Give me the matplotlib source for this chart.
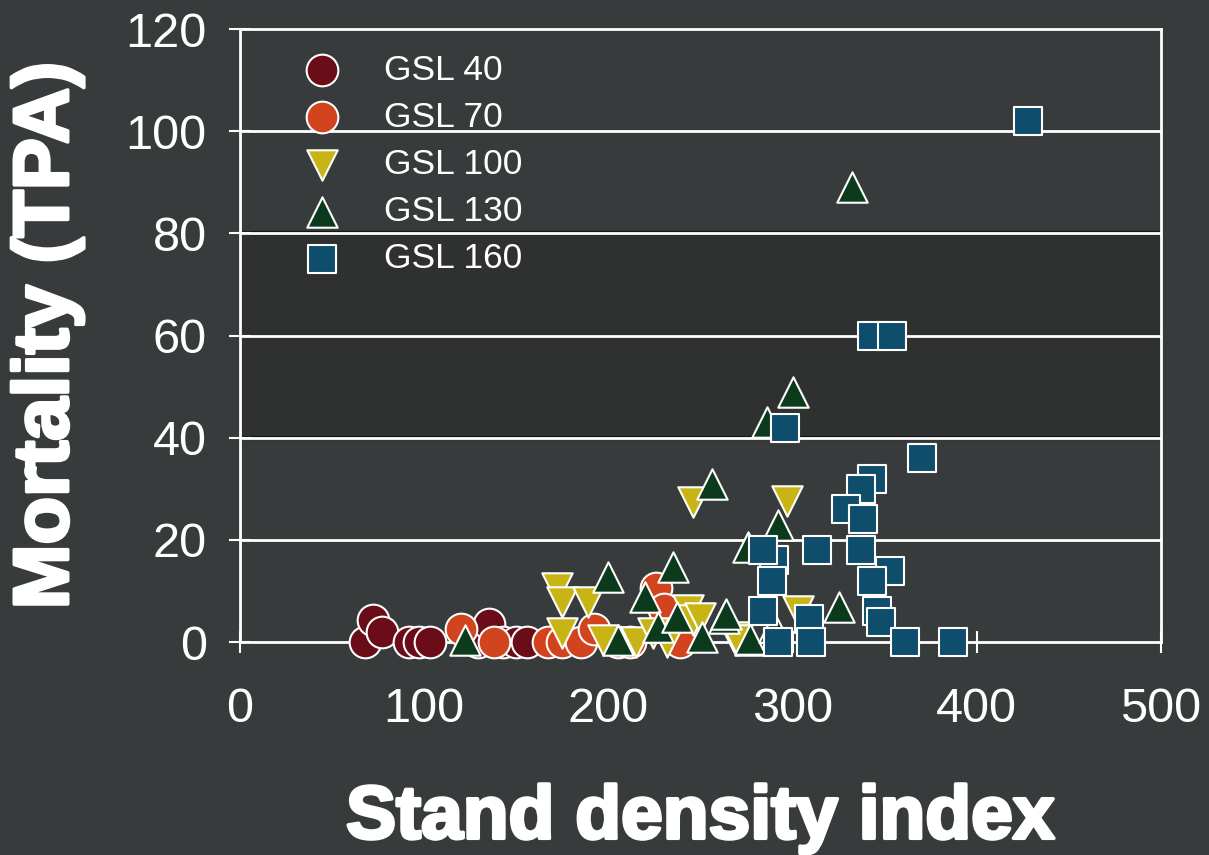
import matplotlib.pyplot as plt
import matplotlib.patheffects as pe

# GSL 40
sdi_40 = [68, 72, 77, 92, 97, 103, 129, 135, 143, 150, 156]
mort_40 = [0, 4.3, 2, 0, 0, 0, 0, 3.5, 0, 0, 0]
# GSL 70
sdi_70 = [120, 138, 167, 175, 185, 192, 205, 212, 226, 230, 239]
mort_70 = [2.5, 0, 0, 0, 0, 2.5, 0, 0, 10.5, 6.5, 0]
# GSL 100
sdi_100 = [172, 175, 189, 175, 197, 215, 224, 232, 243, 246, 250, 246, 268, 270, 297, 303]
mort_100 = [10.5, 7.8, 7.8, 1.8, 0.4, 0, 1.8, 0, 6.2, 4.3, 4.7, 27.4, 1, 0.4, 27.7, 6]
# GSL 130
sdi_130 = [122, 200, 205, 220, 227, 235, 237, 251, 256, 263, 264, 276, 277, 277, 286, 290, 292, 300, 325, 332]
mort_130 = [0.5, 12.7, 0.4, 8.8, 2.9, 14.7, 4.9, 1, 31, 4.7, 5.5, 18.6, 0.4, 0.6, 43, 3, 23, 49, 6.8, 89]
# GSL 160
sdi_160 = [428, 343, 354, 296, 370, 343, 337, 329, 338, 290, 284, 313, 337, 289, 353, 343,
           284, 309, 346, 348, 292, 310, 361, 387]
mort_160 = [102, 60, 60, 42, 36, 32, 30, 26, 24, 16, 18, 18, 18, 12, 14, 12,
            6, 4.5, 6, 4, 0, 0, 0, 0]

bg = '#383b3b'
plt.rcParams['font.family'] = ['Liberation Sans', 'DejaVu Sans']

fig = plt.figure(figsize=(12.09, 8.55), dpi=100, facecolor=bg)
ax = fig.add_axes([0.1985, 0.249, 0.7618, 0.717])
ax.set_facecolor(bg)

# darker band between 40 and 80
ax.axhspan(40, 80, color='#2f3131', zorder=0.5, lw=0)
ax.axhline(80, color='#151616', lw=3, zorder=0.6)
ax.axhline(40, color='#151616', lw=3, zorder=0.6)

for yv in [20, 40, 60, 80, 100]:
    ax.axhline(yv, color='white', lw=2, zorder=1)

ec = 'white'
ax.scatter(sdi_40, mort_40, s=520, marker='o', color='#6a0d18', edgecolors=ec, linewidths=1.5, zorder=3, clip_on=False, label='GSL 40')
ax.scatter(sdi_70, mort_70, s=520, marker='o', color='#d2441e', edgecolors=ec, linewidths=1.5, zorder=3, clip_on=False, label='GSL 70')
ax.scatter(sdi_100, mort_100, s=480, marker='v', color='#c8b414', edgecolors=ec, linewidths=1.5, zorder=3, clip_on=False, label='GSL 100')
ax.scatter(sdi_130, mort_130, s=480, marker='^', color='#0b3b1c', edgecolors=ec, linewidths=1.5, zorder=3, clip_on=False, label='GSL 130')
ax.scatter(sdi_160, mort_160, s=390, marker='s', color='#0e4d6b', edgecolors=ec, linewidths=1.5, zorder=3, clip_on=False, label='GSL 160')

ax.set_xlim(0, 500)
ax.set_ylim(0, 120)
ax.set_xticks([0, 100, 200, 300, 400, 500])
ax.set_yticks([0, 20, 40, 60, 80, 100, 120])
for sp in ax.spines.values():
    sp.set_color('white')
    sp.set_linewidth(2)
ax.tick_params(direction='inout', length=16, width=1.5, color='white',
               labelcolor='white', labelsize=35)
ax.tick_params(axis='x', pad=24)
ax.tick_params(axis='y', pad=16)

stroke = [pe.withStroke(linewidth=2.5, foreground='white')]
ax.set_xlabel('Stand density index', fontsize=54, fontweight='bold', color='white',
              labelpad=38, path_effects=stroke)
ax.set_ylabel('Mortality (TPA)', fontsize=56, fontweight='bold', color='white',
              labelpad=30, path_effects=stroke)

leg = ax.legend(loc='upper left', bbox_to_anchor=(0.06, 0.96), frameon=False,
                fontsize=25.5, labelspacing=0.4, handlelength=1.5, handletextpad=1.0,
                borderpad=0, borderaxespad=0)
for t in leg.get_texts():
    t.set_color('white')

fig.savefig('out.png', dpi=100, facecolor=bg)
